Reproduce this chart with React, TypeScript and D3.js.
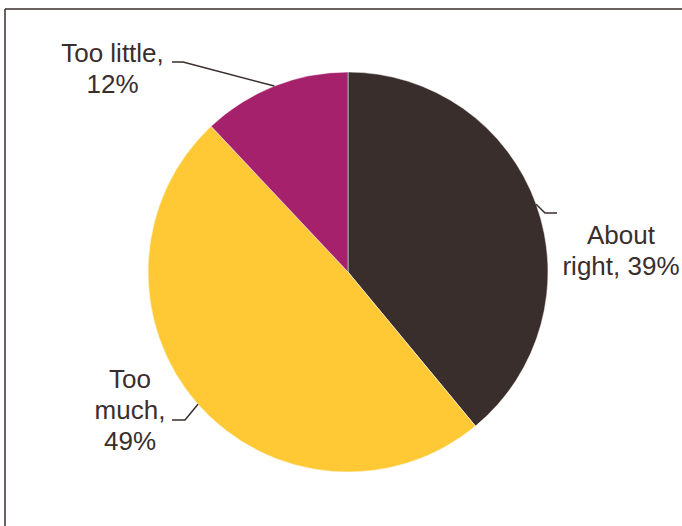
import React from "react";
import * as d3 from "d3";

const categories = ["About right", "Too much", "Too little"];
const values = [39, 49, 12];
const labelLines = [["About", "right, 39%"], ["Too", "much,", "49%"], ["Too little,", "12%"]];

const W = 682;
const H = 526;
const colors = ["#3a2e2d", "#fec935", "#a5216b"];
const textColor = "#3a2e2d";
// layout per slice: label anchor (middle), first baseline, line elbow & end
const layout = [
  { tx: 621, ty: 244, elbow: [545, 213], end: [557, 213] },
  { tx: 130, ty: 388, elbow: [185, 420], end: [172, 420] },
  { tx: 112.5, ty: 62, elbow: [183, 62], end: [172, 62] },
];

export default function App() {
  const cx = 348;
  const cy = 272;
  const r = 200;
  const data = categories.map((c, i) => ({ c, v: values[i], i }));
  const pie = d3.pie<any>().value((d) => d.v).sort(null).startAngle(0).endAngle(2 * Math.PI);
  const arcs = pie(data);
  const arc = d3.arc<any>().innerRadius(0).outerRadius(r);
  const edge = d3.arc<any>().innerRadius(r).outerRadius(r);
  const line = d3.line();

  return (
    <svg width={W} height={H} style={{ position: "absolute", left: 0, top: 0 }}>
      <rect x={0} y={0} width={W} height={H} fill="#fff" />
      <line x1={5} y1={9} x2={W} y2={9} stroke={textColor} strokeWidth={1.5} />
      <line x1={5} y1={9} x2={5} y2={H} stroke={textColor} strokeWidth={1.5} />
      <g transform={`translate(${cx},${cy})`}>
        {arcs.map((a, i) => (
          <path key={i} d={arc(a) || ""} fill={colors[i]} stroke="#fff" strokeWidth={0.5} />
        ))}
      </g>
      {arcs.map((a, i) => {
        const [ex, ey] = edge.centroid(a);
        const L = layout[i];
        const pts: [number, number][] = [
          [cx + ex, cy + ey],
          [L.elbow[0], L.elbow[1]],
          [L.end[0], L.end[1]],
        ];
        return <path key={i} d={line(pts) || ""} fill="none" stroke={textColor} strokeWidth={1.5} />;
      })}
      {labelLines.map((lines, i) => (
        <text
          key={i}
          x={layout[i].tx}
          y={layout[i].ty}
          textAnchor="middle"
          fontFamily="Liberation Sans, Arial, sans-serif"
          fontSize={26}
          fill={textColor}
        >
          {lines.map((t, j) => (
            <tspan key={j} x={layout[i].tx} dy={j === 0 ? 0 : 31}>
              {t}
            </tspan>
          ))}
        </text>
      ))}
    </svg>
  );
}
